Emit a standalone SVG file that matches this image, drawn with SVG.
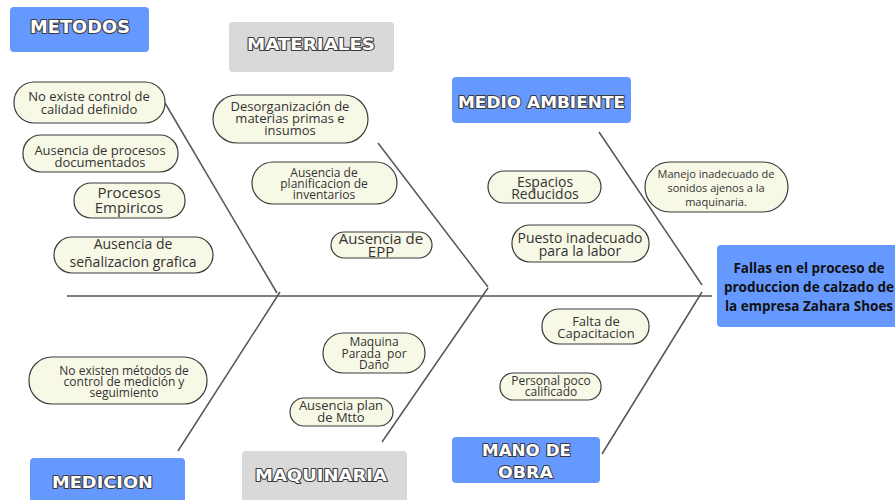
<svg xmlns="http://www.w3.org/2000/svg" width="895" height="500" viewBox="0 0 895 500">
<style>
.blue{fill:#6699ff}
.gray{fill:#d9d9d9}
.hd{font-family:"DejaVu Sans",sans-serif;font-weight:bold;fill:#ffffff;stroke:#3a3a3a;stroke-width:2;paint-order:stroke;stroke-linejoin:round}
.pill{fill:#f8f8e6;stroke:#3a3a3a;stroke-width:1.2}
.t{font-family:"Open Sans","DejaVu Sans",sans-serif;fill:#333333;text-anchor:middle}
.bone{stroke:#555555;stroke-width:1.5;fill:none}
.main{font-family:"Open Sans","DejaVu Sans",sans-serif;font-weight:bold;font-size:13.5px;fill:#111111;text-anchor:middle}
</style>
<rect width="895" height="500" fill="#ffffff"/>
<g id="connectors">
<line class="bone" x1="67" y1="296" x2="712" y2="296"/>
<line class="bone" x1="165" y1="103" x2="277" y2="293"/>
<line class="bone" x1="280" y1="292" x2="178" y2="451"/>
<line class="bone" x1="378" y1="143" x2="488" y2="287"/>
<line class="bone" x1="488" y1="288" x2="382" y2="442"/>
<line class="bone" x1="599" y1="132" x2="702" y2="285"/>
<line class="bone" x1="702" y1="292" x2="602" y2="454"/>
</g>
<g id="metodos"><rect class="blue" x="10" y="7" width="139" height="45" rx="4"/><text class="hd" x="30" y="33" font-size="17" textLength="100" lengthAdjust="spacingAndGlyphs">METODOS</text></g>
<g id="materiales"><rect class="gray" x="229" y="22" width="165" height="50" rx="4"/><text class="hd" x="247" y="50" font-size="16" textLength="128" lengthAdjust="spacingAndGlyphs">MATERIALES</text></g>
<g id="medio-ambiente"><rect class="blue" x="452" y="77" width="179" height="46" rx="4"/><text class="hd" x="458" y="108" font-size="16" textLength="167" lengthAdjust="spacingAndGlyphs">MEDIO AMBIENTE</text></g>
<g id="medicion"><rect class="blue" x="30" y="458" width="155" height="48" rx="4"/><text class="hd" x="52" y="488" font-size="16" textLength="101" lengthAdjust="spacingAndGlyphs">MEDICION</text></g>
<g id="maquinaria"><rect class="gray" x="242" y="451" width="165" height="55" rx="4"/><text class="hd" x="255" y="481" font-size="16" textLength="132" lengthAdjust="spacingAndGlyphs">MAQUINARIA</text></g>
<g id="mano-de-obra"><rect class="blue" x="452" y="437" width="148" height="46" rx="4"/><text class="hd" x="482" y="456" font-size="16" textLength="89" lengthAdjust="spacingAndGlyphs">MANO DE</text><text class="hd" x="498" y="478" font-size="16" textLength="55" lengthAdjust="spacingAndGlyphs">OBRA</text></g>
<g id="efecto"><rect class="blue" x="717" y="245" width="190" height="82" rx="4"/><text class="main" x="809" y="273">Fallas en el proceso de</text><text class="main" x="809" y="292">produccion de calzado de</text><text class="main" x="809" y="311">la empresa Zahara Shoes</text></g>
<g id="n1"><rect class="pill" x="14" y="82" width="151" height="41" rx="20"/><text class="t" font-size="13" x="89" y="101">No existe control de</text><text class="t" font-size="13" x="89" y="114">calidad definido</text></g>
<g id="n2"><rect class="pill" x="23" y="135" width="155" height="37" rx="18"/><text class="t" font-size="13" x="100" y="155">Ausencia de procesos</text><text class="t" font-size="13" x="100" y="167">documentados</text></g>
<g id="n3"><rect class="pill" x="74" y="183" width="111" height="35" rx="17"/><text class="t" font-size="15" x="129" y="198">Procesos</text><text class="t" font-size="15" x="129" y="213">Empiricos</text></g>
<g id="n4"><rect class="pill" x="54" y="237" width="159" height="36" rx="18"/><text class="t" font-size="14" x="133" y="249">Ausencia de</text><text class="t" font-size="14" x="133" y="267">señalizacion grafica</text></g>
<g id="n5"><rect class="pill" x="213" y="95" width="155" height="48" rx="24"/><text class="t" font-size="13" x="290" y="111">Desorganización de</text><text class="t" font-size="13" x="290" y="123">materias primas e</text><text class="t" font-size="13" x="290" y="135">insumos</text></g>
<g id="n6"><rect class="pill" x="252" y="162" width="145" height="42" rx="21"/><text class="t" font-size="12" x="324" y="177">Ausencia de</text><text class="t" font-size="12" x="324" y="188">planificacion de</text><text class="t" font-size="12" x="324" y="199">inventarios</text></g>
<g id="n7"><rect class="pill" x="331" y="232" width="101" height="26" rx="13"/><text class="t" font-size="15" x="381" y="244">Ausencia de</text><text class="t" font-size="15" x="381" y="257">EPP</text></g>
<g id="n8"><rect class="pill" x="488" y="171" width="113" height="32" rx="16"/><text class="t" font-size="14" x="545" y="187">Espacios</text><text class="t" font-size="14" x="545" y="199">Reducidos</text></g>
<g id="n9"><rect class="pill" x="512" y="225" width="137" height="37" rx="18"/><text class="t" font-size="14" x="580" y="243">Puesto inadecuado</text><text class="t" font-size="14" x="580" y="256">para la labor</text></g>
<g id="n10"><rect class="pill" x="645" y="162" width="143" height="50" rx="25"/><text class="t" font-size="11" x="716" y="178">Manejo inadecuado de</text><text class="t" font-size="11" x="716" y="192">sonidos ajenos a la</text><text class="t" font-size="11" x="716" y="206">maquinaria.</text></g>
<g id="n11"><rect class="pill" x="542" y="309" width="107" height="35" rx="17"/><text class="t" font-size="13" x="596" y="326">Falta de</text><text class="t" font-size="13" x="596" y="338">Capacitacion</text></g>
<g id="n12"><rect class="pill" x="500" y="373" width="101" height="27" rx="13"/><text class="t" font-size="12" x="551" y="385">Personal poco</text><text class="t" font-size="12" x="551" y="396">calificado</text></g>
<g id="n13"><rect class="pill" x="323" y="333" width="102" height="40" rx="20"/><text class="t" font-size="12" x="374" y="346">Maquina</text><text class="t" font-size="12" x="374" y="358" xml:space="preserve">Parada  por</text><text class="t" font-size="12" x="374" y="369">Daño</text></g>
<g id="n14"><rect class="pill" x="290" y="398" width="103" height="28" rx="14"/><text class="t" font-size="13" x="341" y="410">Ausencia plan</text><text class="t" font-size="13" x="341" y="422">de Mtto</text></g>
<g id="n15"><rect class="pill" x="29" y="357" width="178" height="47" rx="23"/><text class="t" font-size="12" x="124" y="375">No existen métodos de</text><text class="t" font-size="12" x="124" y="386">control de medición y</text><text class="t" font-size="12" x="124" y="397">seguimiento</text></g>
</svg>
